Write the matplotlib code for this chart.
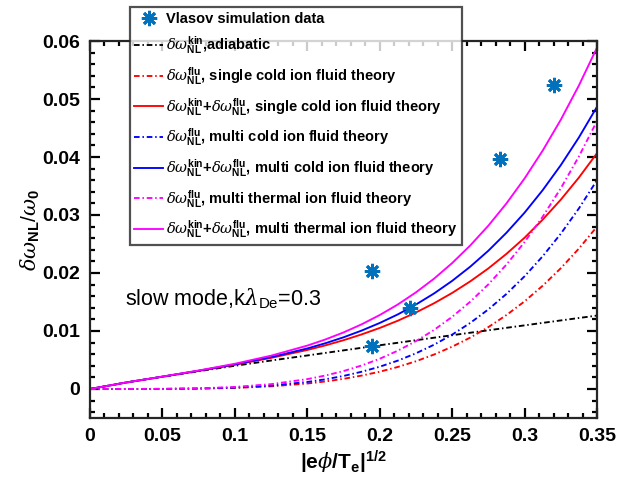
import matplotlib
matplotlib.use("Agg")
import matplotlib.pyplot as plt
import numpy as np
from matplotlib.ticker import MultipleLocator

# amplitude |e phi / Te|^(1/2)
amp = [0.0, 0.025, 0.05, 0.075, 0.1, 0.125, 0.15, 0.1625, 0.175, 0.1875,
       0.2, 0.2125, 0.225, 0.2375, 0.25, 0.2625, 0.275, 0.2875, 0.3, 0.3125,
       0.325, 0.3375, 0.35]

# kinetic (adiabatic) part
kin_adiabatic = [0.0, 0.00112, 0.00211, 0.00307, 0.00400, 0.00491, 0.00578, 0.00622,
                 0.00666, 0.0071, 0.00754, 0.00797, 0.00841, 0.00884, 0.00927, 0.0097,
                 0.01012, 0.01055, 0.01097, 0.0114, 0.01182, 0.01224, 0.01266]

# fluid parts
flu_single_cold = [0.0, 0.0000007, 0.0000117, 0.000059, 0.000186, 0.000456, 0.000945,
                   0.0013, 0.00175, 0.00231, 0.00298, 0.0038, 0.00478, 0.00594, 0.00729,
                   0.00886, 0.01067, 0.01275, 0.01511, 0.0178, 0.02082, 0.02421, 0.0280]
flu_multi_cold = [0.0, 0.0000009, 0.000015, 0.000076, 0.00024, 0.000586, 0.00121,
                  0.00167, 0.00225, 0.00297, 0.00384, 0.00489, 0.00615, 0.00763, 0.00937,
                  0.01139, 0.01372, 0.01639, 0.01943, 0.02288, 0.02677, 0.03113, 0.0360]
flu_multi_thermal = [0.0, 0.0000016, 0.0000233, 0.000114, 0.000349, 0.000833, 0.00170,
                     0.00232, 0.00309, 0.00405, 0.00521, 0.0066, 0.00825, 0.01018, 0.01244,
                     0.01505, 0.01804, 0.02145, 0.02533, 0.0297, 0.0346, 0.04009, 0.0462]

# Vlasov simulation points
vlasov_amp = [0.195, 0.195, 0.221, 0.283, 0.320]
vlasov_dw = [0.0074, 0.0203, 0.0139, 0.0396, 0.0525]

plt.rcParams["font.family"] = ["Liberation Sans", "DejaVu Sans"]
plt.rcParams["mathtext.fontset"] = "custom"
plt.rcParams["mathtext.rm"] = "Liberation Sans"
plt.rcParams["mathtext.bf"] = "Liberation Sans:bold"
plt.rcParams["mathtext.it"] = "DejaVu Serif:italic"

kin = np.array(kin_adiabatic)
tot_single_cold = kin + np.array(flu_single_cold)
tot_multi_cold = kin + np.array(flu_multi_cold)
tot_multi_thermal = kin + np.array(flu_multi_thermal)

fig = plt.figure(figsize=(6.4, 4.87), dpi=100)
ax = fig.add_axes([0.1406, 0.1417, 0.7922, 0.7741])

dashdot = (0, (3.0, 1.5, 0.8, 1.5))
lw = 1.35

K = r"$\delta\omega^{\mathbf{kin}}_{\mathbf{NL}}$"
F = r"$\delta\omega^{\mathbf{flu}}_{\mathbf{NL}}$"
KF = r"$\delta\omega^{\mathbf{kin}}_{\mathbf{NL}}\mathbf{+}\delta\omega^{\mathbf{flu}}_{\mathbf{NL}}$"

ax.plot(vlasov_amp, vlasov_dw, linestyle="none", marker=(8, 2, 0), markersize=11,
        markeredgewidth=2, color="#0072BD", label="Vlasov simulation data", zorder=4)
ax.plot(amp, kin_adiabatic, color="black", lw=lw, linestyle=dashdot, label=K + ",adiabatic")
ax.plot(amp, flu_single_cold, color="red", lw=lw, linestyle=dashdot,
        label=F + ", single cold ion fluid theory")
ax.plot(amp, tot_single_cold, color="red", lw=lw,
        label=KF + ", single cold ion fluid theory")
ax.plot(amp, flu_multi_cold, color="blue", lw=lw, linestyle=dashdot,
        label=F + ", multi cold ion fluid theory")
ax.plot(amp, tot_multi_cold, color="blue", lw=lw,
        label=KF + ", multi cold ion fluid theory")
ax.plot(amp, flu_multi_thermal, color="magenta", lw=lw, linestyle=dashdot,
        label=F + ", multi thermal ion fluid theory")
ax.plot(amp, tot_multi_thermal, color="magenta", lw=lw,
        label=KF + ", multi thermal ion fluid theory")

ax.set_xlim(0, 0.35)
ax.set_ylim(-0.005, 0.06)
ax.xaxis.set_minor_locator(MultipleLocator(0.01))
ax.yaxis.set_minor_locator(MultipleLocator(0.002))
ax.set_xticks(np.arange(0, 0.351, 0.05))
ax.set_xticklabels(["0", "0.05", "0.1", "0.15", "0.2", "0.25", "0.3", "0.35"])
ax.set_yticks(np.arange(0, 0.061, 0.01))
ax.set_yticklabels(["0", "0.01", "0.02", "0.03", "0.04", "0.05", "0.06"])
ax.tick_params(which="both", direction="in", top=True, right=True, width=1.6,
               labelsize=14, pad=7)
ax.tick_params(which="major", length=7)
ax.tick_params(which="minor", length=3.5)
for lab in ax.get_xticklabels() + ax.get_yticklabels():
    lab.set_fontweight("bold")
for sp in ax.spines.values():
    sp.set_linewidth(1.6)
    sp.set_color("#262626")

ax.set_xlabel(r"$\mathbf{|e}\phi\mathbf{/T_e|^{1/2}}$", fontsize=15, labelpad=3)
ax.set_ylabel(r"$\delta\omega_{\mathbf{NL}}\mathrm{/}\omega_{\mathbf{0}}$", fontsize=15, labelpad=0)

ax.text(0.024, 0.0156, r"slow mode,k$\lambda_{\mathrm{De}}$=0.3", fontsize=15.5,
        va="center", ha="left")

leg = ax.legend(loc="upper left", bbox_to_anchor=(0.203, 0.985), bbox_transform=fig.transFigure,
                prop={"weight": "bold", "size": 10.5}, frameon=True, fancybox=False,
                handlelength=2.0, handletextpad=0.2, borderpad=0.3, labelspacing=0.6,
                borderaxespad=0)
leg.get_frame().set_edgecolor("#262626")
leg.get_frame().set_linewidth(1.6)
leg.set_zorder(10)

fig.savefig("out.png", dpi=100)
